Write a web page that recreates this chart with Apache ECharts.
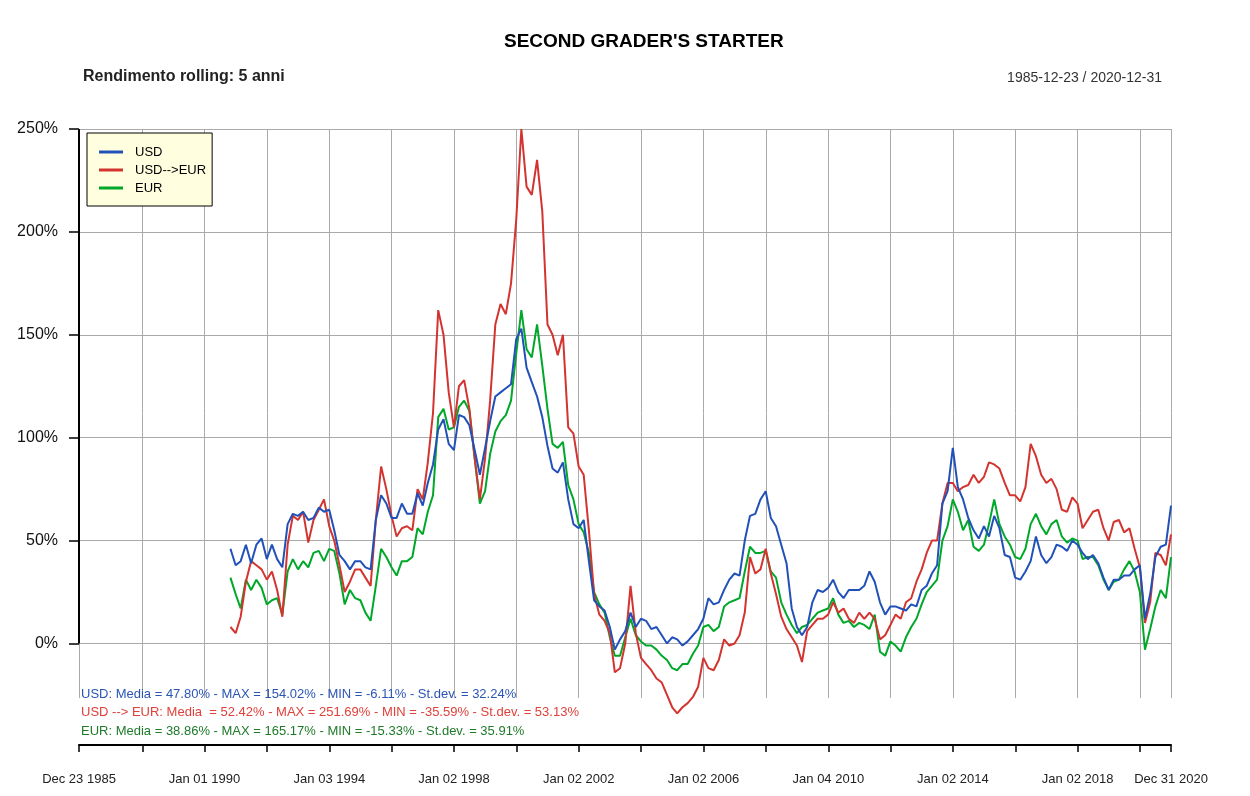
<!DOCTYPE html>
<html>
<head>
<meta charset="utf-8">
<title>Second grader's starter</title>
<script src="https://cdn.jsdelivr.net/npm/echarts@6/dist/echarts.min.js"></script>
<style>
  html, body { margin: 0; padding: 0; background: #fff; }
  #chart { width: 1250px; height: 796px; }
</style>
</head>
<body>
<div id="chart"></div>
<script>
// sample dates (every two months) of the 5-year rolling return
const dates = [
  '1990-11',
  '1991-01', '1991-03', '1991-05', '1991-07', '1991-09', '1991-11',
  '1992-01', '1992-03', '1992-05', '1992-07', '1992-09', '1992-11',
  '1993-01', '1993-03', '1993-05', '1993-07', '1993-09', '1993-11',
  '1994-01', '1994-03', '1994-05', '1994-07', '1994-09', '1994-11',
  '1995-01', '1995-03', '1995-05', '1995-07', '1995-09', '1995-11',
  '1996-01', '1996-03', '1996-05', '1996-07', '1996-09', '1996-11',
  '1997-01', '1997-03', '1997-05', '1997-07', '1997-09', '1997-11',
  '1998-01', '1998-03', '1998-05', '1998-07', '1998-09', '1998-11',
  '1999-01', '1999-03', '1999-05', '1999-07', '1999-09', '1999-11',
  '2000-01', '2000-03', '2000-05', '2000-07', '2000-09', '2000-11',
  '2001-01', '2001-03', '2001-05', '2001-07', '2001-09', '2001-11',
  '2002-01', '2002-03', '2002-05', '2002-07', '2002-09', '2002-11',
  '2003-01', '2003-03', '2003-05', '2003-07', '2003-09', '2003-11',
  '2004-01', '2004-03', '2004-05', '2004-07', '2004-09', '2004-11',
  '2005-01', '2005-03', '2005-05', '2005-07', '2005-09', '2005-11',
  '2006-01', '2006-03', '2006-05', '2006-07', '2006-09', '2006-11',
  '2007-01', '2007-03', '2007-05', '2007-07', '2007-09', '2007-11',
  '2008-01', '2008-03', '2008-05', '2008-07', '2008-09', '2008-11',
  '2009-01', '2009-03', '2009-05', '2009-07', '2009-09', '2009-11',
  '2010-01', '2010-03', '2010-05', '2010-07', '2010-09', '2010-11',
  '2011-01', '2011-03', '2011-05', '2011-07', '2011-09', '2011-11',
  '2012-01', '2012-03', '2012-05', '2012-07', '2012-09', '2012-11',
  '2013-01', '2013-03', '2013-05', '2013-07', '2013-09', '2013-11',
  '2014-01', '2014-03', '2014-05', '2014-07', '2014-09', '2014-11',
  '2015-01', '2015-03', '2015-05', '2015-07', '2015-09', '2015-11',
  '2016-01', '2016-03', '2016-05', '2016-07', '2016-09', '2016-11',
  '2017-01', '2017-03', '2017-05', '2017-07', '2017-09', '2017-11',
  '2018-01', '2018-03', '2018-05', '2018-07', '2018-09', '2018-11',
  '2019-01', '2019-03', '2019-05', '2019-07', '2019-09', '2019-11',
  '2020-01', '2020-03', '2020-05', '2020-07', '2020-09', '2020-11',
  '2020-12-31'
];

// rolling return, %
const usd = [
  46,
  38, 40, 48, 39, 48, 51,
  41, 48, 41, 37, 58, 63,
  62, 64, 60, 61, 66, 64,
  65, 55, 43, 40, 36, 40,
  40, 37, 36, 60, 72, 68,
  61, 61, 68, 63, 63, 73,
  67, 78, 87, 104, 109, 97,
  94, 111, 110, 106, 94, 82,
  95, 108, 120, 122, 124, 126,
  148, 153, 134, 127, 120, 110,
  96, 85, 83, 88, 70, 58,
  56, 60, 40, 21, 18, 16,
  8, -3, 2, 6, 15, 8,
  12, 11, 7, 8, 4, 0,
  3, 2, -1, 1, 4, 7,
  12, 22, 19, 20, 26, 31,
  34, 33, 50, 62, 63, 70,
  74, 61, 57, 48, 39, 17,
  8, 4, 8, 20, 26, 25,
  27, 31, 25, 22, 26, 26,
  26, 28, 35, 30, 20, 14,
  18, 18, 17, 16, 19, 18,
  26, 28, 34, 38, 68, 74,
  95, 76, 70, 61, 55, 51,
  57, 52, 62, 56, 43, 42,
  32, 31, 35, 40, 52, 43,
  39, 42, 48, 47, 45, 50,
  48, 44, 41, 43, 39, 32,
  26, 31, 31, 33, 33, 36,
  38, 12, 24, 42, 47, 48,
  67
];

const usdEur = [
  8,
  5, 13, 30, 40, 38, 36,
  31, 35, 26, 13, 48, 62,
  60, 64, 49, 60, 65, 70,
  57, 50, 38, 25, 30, 36,
  36, 32, 28, 60, 86, 75,
  62, 52, 56, 57, 55, 75,
  70, 88, 112, 162, 150, 122,
  105, 125, 128, 114, 90, 70,
  90, 118, 155, 165, 160, 175,
  206, 250, 222, 218, 235, 210,
  155, 150, 140, 150, 105, 102,
  86, 82, 55, 24, 14, 11,
  5, -14, -12, 0, 28, 5,
  -7, -10, -13, -17, -19, -25,
  -31, -34, -31, -29, -26, -21,
  -7, -12, -13, -8, 2, -1,
  0, 4, 15, 42, 34, 36,
  46, 34, 24, 13, 7, 3,
  -1, -9, 6, 9, 12, 12,
  14, 20, 15, 17, 12, 10,
  15, 12, 15, 12, 2, 4,
  9, 14, 12, 20, 22, 30,
  36, 44, 50, 50, 68, 78,
  78, 74, 76, 77, 82, 78,
  81, 88, 87, 85, 78, 72,
  72, 69, 76, 97, 91, 82,
  78, 80, 75, 65, 64, 71,
  68, 56, 60, 64, 65, 56,
  50, 59, 60, 54, 56, 46,
  37, 10, 20, 44, 43, 38,
  53
];

const eur = [
  32,
  24, 17, 31, 26, 31, 27,
  19, 21, 22, 14, 35, 41,
  36, 40, 37, 44, 45, 40,
  46, 45, 34, 19, 26, 22,
  21, 15, 11, 28, 46, 42,
  37, 33, 40, 40, 42, 56,
  53, 64, 72, 110, 114, 104,
  105, 115, 118, 113, 90, 68,
  74, 92, 103, 108, 111, 118,
  141, 162, 143, 139, 155, 135,
  114, 97, 95, 98, 77, 70,
  58, 54, 44, 25, 19, 15,
  3, -6, -6, 3, 12, 4,
  1, -1, -1, -3, -6, -8,
  -12, -13, -10, -10, -5, -1,
  8, 9, 6, 8, 18, 20,
  21, 22, 35, 47, 44, 44,
  45, 35, 32, 20, 14, 9,
  5, 8, 9, 12, 15, 16,
  17, 22, 14, 10, 11, 8,
  10, 9, 7, 14, -4, -6,
  1, -1, -4, 3, 8, 12,
  19, 25, 28, 31, 50, 57,
  70, 64, 55, 60, 47, 45,
  48, 58, 70, 58, 52, 48,
  42, 41, 46, 58, 63, 57,
  53, 58, 60, 52, 49, 51,
  50, 41, 42, 42, 38, 31,
  26, 30, 31, 36, 40, 35,
  25, -3, 7, 18, 26, 22,
  42
];

const seriesNames = ['USD', 'USD-->EUR', 'EUR'];
const yTicks = [0, 50, 100, 150, 200, 250];
const xTicks = ['1985-12-23', '1988-01-04', '1990-01-01', '1992-01-02', '1994-01-03',
  '1996-01-02', '1998-01-02', '2000-01-03', '2002-01-02', '2004-01-02', '2006-01-02',
  '2008-01-02', '2010-01-04', '2012-01-02', '2014-01-02', '2016-01-04', '2018-01-02',
  '2020-01-02', '2020-12-31'];
const xLabels = ['1985-12-23', '1990-01-01', '1994-01-03', '1998-01-02', '2002-01-02',
  '2006-01-02', '2010-01-04', '2014-01-02', '2018-01-02', '2020-12-31'];

const statsUsd = 'USD: Media = 47.80% - MAX = 154.02% - MIN = -6.11% - St.dev. = 32.24%';
const statsUsdEur = 'USD --> EUR: Media  = 52.42% - MAX = 251.69% - MIN = -35.59% - St.dev. = 53.13%';
const statsEur = 'EUR: Media = 38.86% - MAX = 165.17% - MIN = -15.33% - St.dev. = 35.91%';

const FONT = '"Liberation Sans", Arial, sans-serif';
const MONTHS = ['Jan', 'Feb', 'Mar', 'Apr', 'May', 'Jun', 'Jul', 'Aug', 'Sep', 'Oct', 'Nov', 'Dec'];

// local-time parse of 'YYYY-MM' or 'YYYY-MM-DD'
function toTs(s) {
  const p = s.split('-').map(Number);
  return new Date(p[0], p[1] - 1, p[2] || 1).getTime();
}

function fmtDate(v) {
  const d = new Date(Math.round(v));
  const dd = d.getDate() < 10 ? '0' + d.getDate() : '' + d.getDate();
  return MONTHS[d.getMonth()] + ' ' + dd + ' ' + d.getFullYear();
}

const chart = echarts.init(document.getElementById('chart'), null, { renderer: 'canvas' });

const colors = ['#2151b8', '#d3342f', '#00a82a'];
const values = [usd, usdEur, eur];

const series = seriesNames.map((name, i) => ({
  name: name,
  type: 'line',
  data: dates.map((d, k) => [toTs(d), values[i][k]]),
  showSymbol: false,
  clip: false,
  z: 5 - i,
  lineStyle: { color: colors[i], width: 2 },
  itemStyle: { color: colors[i] },
  emphasis: { disabled: true }
}));

// black left axis line between 0% and 250%, like the reference
series[0].markLine = {
  silent: true,
  symbol: 'none',
  label: { show: false },
  emphasis: { disabled: true },
  lineStyle: { color: '#000', width: 2, type: 'solid' },
  data: [[{ coord: [toTs(xTicks[0]), 0] }, { coord: [toTs(xTicks[0]), 250] }]]
};

const option = {
  animation: false,
  backgroundColor: '#fff',
  textStyle: { fontFamily: FONT },
  title: [
    { text: "SECOND GRADER'S STARTER", left: 504, top: 32, padding: 0,
      textStyle: { fontSize: 19, fontWeight: 'bold', color: '#000', fontFamily: FONT } },
    { text: 'Rendimento rolling: 5 anni', left: 83, top: 69, padding: 0,
      textStyle: { fontSize: 16, fontWeight: 'bold', color: '#222', fontFamily: FONT } },
    { text: '1985-12-23 / 2020-12-31', right: 88, top: 71, padding: 0,
      textStyle: { fontSize: 14, fontWeight: 'normal', color: '#333', fontFamily: FONT } },
    { text: statsUsd, left: 81, top: 688, padding: 0,
      textStyle: { fontSize: 13, fontWeight: 'normal', color: '#2a55b5', fontFamily: FONT } },
    { text: statsUsdEur, left: 81, top: 706, padding: 0,
      textStyle: { fontSize: 13, fontWeight: 'normal', color: '#e0403a', fontFamily: FONT } },
    { text: statsEur, left: 81, top: 725, padding: 0,
      textStyle: { fontSize: 13, fontWeight: 'normal', color: '#1f7a2a', fontFamily: FONT } }
  ],
  legend: {
    data: seriesNames,
    orient: 'vertical',
    left: 87,
    top: 133,
    padding: [10, 6, 9, 12],
    itemGap: 0,
    itemWidth: 24,
    itemHeight: 3,
    icon: 'rect',
    backgroundColor: '#ffffe0',
    borderColor: '#000',
    borderWidth: 1,
    borderRadius: 0,
    selectedMode: false,
    textStyle: { fontSize: 13, color: '#000', lineHeight: 18, padding: [0, 0, 0, 7], fontFamily: FONT }
  },
  grid: {
    left: 79,
    right: 79,
    top: 129,
    bottom: 98,
    containLabel: false,
    outerBoundsMode: 'none'
  },
  xAxis: {
    type: 'value',
    min: toTs('1985-12-23'),
    max: toTs('2020-12-31'),
    offset: 47,
    axisLine: { show: true, onZero: false, lineStyle: { color: '#000', width: 2 } },
    axisTick: {
      show: true, length: 7, inside: false,
      customValues: xTicks.map(toTs),
      lineStyle: { color: '#000', width: 1.5 }
    },
    axisLabel: {
      customValues: xLabels.map(toTs),
      formatter: v => fmtDate(v),
      fontSize: 13,
      color: '#222',
      margin: 28,
      hideOverlap: false,
      fontFamily: FONT
    },
    splitLine: { show: true, lineStyle: { color: '#aaaaaa', width: 1 } }
  },
  yAxis: {
    type: 'value',
    min: -26.5,
    max: 250,
    axisLine: { show: false },
    axisTick: {
      show: true, length: 10, inside: false,
      customValues: yTicks,
      lineStyle: { color: '#000', width: 1.5 }
    },
    axisLabel: {
      customValues: yTicks,
      formatter: '{value}%',
      fontSize: 16,
      color: '#111',
      margin: 21,
      fontFamily: FONT
    },
    splitLine: { show: true, lineStyle: { color: '#aaaaaa', width: 1 } }
  },
  series: series
};

chart.setOption(option);
</script>
</body>
</html>
